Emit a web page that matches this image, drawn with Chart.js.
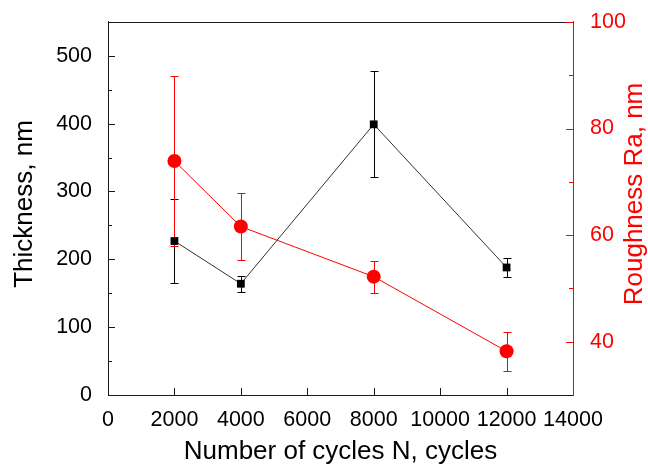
<!DOCTYPE html>
<html>
<head>
<meta charset="utf-8">
<script src="https://cdn.jsdelivr.net/npm/chart.js@4.4.1/dist/chart.umd.min.js"></script>
<style>
  html, body { margin: 0; padding: 0; background: #fff; }
  #wrap { width: 648px; height: 467px; }
</style>
</head>
<body>
<div id="wrap"><canvas id="chart"></canvas></div>
<script>
// values
const cycles = [2000, 4000, 8000, 12000];
const thickness = [227, 164, 399, 188];
const thicknessErr = [62, 12, 78, 14];
const roughness = [73.9, 61.6, 52.2, 38.2];
const roughnessErr = [16, 6.3, 3, 3.7];

const xTicks = [0, 2000, 4000, 6000, 8000, 10000, 12000, 14000];
const thicknessTicks = [0, 100, 200, 300, 400, 500];
const roughnessTicks = [40, 60, 80, 100];

const FONT = '"Liberation Sans", Arial, sans-serif';
const RED = "#ff0000";
const DARK = "#1a1a1a";

function toPoints(xs, ys) {
  return xs.map((x, i) => ({ x: x, y: ys[i] }));
}

function midpoints(arr) {
  let out = [];
  for (let i = 0; i < arr.length - 1; i++) out.push((arr[i] + arr[i + 1]) / 2);
  return out;
}

const errorBars = {
  id: "errorBars",
  beforeDatasetsDraw(chart) {
    const ctx = chart.ctx;
    chart.data.datasets.forEach((ds, i) => {
      const meta = chart.getDatasetMeta(i);
      const ys = chart.scales[ds.yAxisID];
      ctx.save();
      ctx.strokeStyle = ds.errColor;
      ctx.lineWidth = 1;
      meta.data.forEach((pt, j) => {
        const v = ds.data[j].y;
        const e = ds.err[j];
        const top = Math.round(ys.getPixelForValue(v + e)) + 0.5;
        const bot = Math.round(ys.getPixelForValue(v - e)) + 0.5;
        const x = Math.round(pt.x) + 0.5;
        ctx.beginPath();
        ctx.moveTo(x, top);
        ctx.lineTo(x, bot);
        ctx.moveTo(x - 4, top);
        ctx.lineTo(x + 4, top);
        ctx.moveTo(x - 4, bot);
        ctx.lineTo(x + 4, bot);
        ctx.stroke();
      });
      ctx.restore();
    });
  },
};

const frame = {
  id: "frame",
  afterDraw(chart) {
    const ctx = chart.ctx;
    const a = chart.chartArea;
    const sx = chart.scales.x;
    const yl = chart.scales.yL;
    const yr = chart.scales.yR;
    ctx.save();
    ctx.lineWidth = 1;

    // top border
    ctx.strokeStyle = DARK;
    ctx.beginPath();
    ctx.moveTo(a.left, Math.round(a.top) + 0.5);
    ctx.lineTo(a.right, Math.round(a.top) + 0.5);
    ctx.stroke();

    // inward ticks, left + bottom
    ctx.beginPath();
    thicknessTicks.forEach((v) => {
      const y = Math.round(yl.getPixelForValue(v)) + 0.5;
      ctx.moveTo(a.left, y);
      ctx.lineTo(a.left + 7, y);
    });
    midpoints(thicknessTicks.concat([600])).forEach((v) => {
      const y = Math.round(yl.getPixelForValue(v)) + 0.5;
      ctx.moveTo(a.left, y);
      ctx.lineTo(a.left + 4, y);
    });
    xTicks.slice(1, -1).forEach((v) => {
      const x = Math.round(sx.getPixelForValue(v)) + 0.5;
      ctx.moveTo(x, a.bottom);
      ctx.lineTo(x, a.bottom - 7);
    });
    ctx.stroke();

    // inward ticks, right
    ctx.strokeStyle = RED;
    ctx.beginPath();
    roughnessTicks.forEach((v) => {
      const y = Math.round(yr.getPixelForValue(v)) + 0.5;
      ctx.moveTo(a.right, y);
      ctx.lineTo(a.right - 7, y);
    });
    midpoints([20].concat(roughnessTicks)).forEach((v) => {
      if (v < 35) return;
      const y = Math.round(yr.getPixelForValue(v)) + 0.5;
      ctx.moveTo(a.right, y);
      ctx.lineTo(a.right - 4, y);
    });
    ctx.stroke();

    // axis titles
    ctx.font = "26px " + FONT;
    ctx.textAlign = "center";
    ctx.textBaseline = "middle";
    ctx.fillStyle = "#000";
    ctx.fillText("Number of cycles N, cycles", (a.left + a.right) / 2, 452);

    ctx.save();
    ctx.translate(25, 204);
    ctx.rotate(-Math.PI / 2);
    ctx.fillText("Thickness, nm", 0, 0);
    ctx.restore();

    ctx.save();
    ctx.fillStyle = RED;
    ctx.translate(635, 194);
    ctx.rotate(-Math.PI / 2);
    ctx.fillText("Roughness Ra, nm", 0, 0);
    ctx.restore();

    ctx.restore();
  },
};

const data = {
  datasets: [
    {
      label: "Thickness",
      data: toPoints(cycles, thickness),
      err: thicknessErr,
      errColor: "#000",
      yAxisID: "yL",
      borderColor: "#333",
      borderWidth: 1,
      backgroundColor: "#000",
      pointStyle: "rect",
      pointRadius: 5.5,
      pointBorderWidth: 0,
      showLine: true,
    },
    {
      label: "Roughness",
      data: toPoints(cycles, roughness),
      err: roughnessErr,
      errColor: RED,
      yAxisID: "yR",
      borderColor: RED,
      borderWidth: 1,
      backgroundColor: RED,
      pointStyle: "circle",
      pointRadius: 7,
      pointBorderWidth: 0,
      showLine: true,
    },
  ],
};

const config = {
  type: "scatter",
  data: data,
  options: {
    responsive: true,
    maintainAspectRatio: false,
    animation: false,
    layout: { padding: { top: 17, left: 0, right: 0, bottom: 0 } },
    plugins: { legend: { display: false }, tooltip: { enabled: false } },
    scales: {
      x: {
        type: "linear",
        position: "bottom",
        min: 0,
        max: 14000,
        afterFit: (s) => { s.height = 72; },
        afterBuildTicks: (s) => { s.ticks = xTicks.map((v) => ({ value: v })); },
        grid: { display: false },
        border: { display: true, color: DARK, width: 1 },
        ticks: {
          color: "#000",
          padding: 4,
          maxRotation: 0,
          autoSkip: false,
          font: { family: FONT, size: 21.5 },
          callback: (v) => String(v),
        },
      },
      yL: {
        type: "linear",
        position: "left",
        min: 0,
        max: 550,
        afterFit: (s) => { s.width = 108; },
        afterBuildTicks: (s) => { s.ticks = thicknessTicks.map((v) => ({ value: v })); },
        grid: { display: false },
        border: { display: true, color: DARK, width: 1 },
        ticks: {
          color: "#000",
          padding: 8,
          font: { family: FONT, size: 21.5 },
          callback: (v) => String(v),
        },
      },
      yR: {
        type: "linear",
        position: "right",
        min: 30,
        max: 100,
        afterFit: (s) => { s.width = 75; },
        afterBuildTicks: (s) => { s.ticks = roughnessTicks.map((v) => ({ value: v })); },
        grid: { display: false },
        border: { display: true, color: RED, width: 1 },
        ticks: {
          color: RED,
          padding: 9,
          font: { family: FONT, size: 21.5 },
          callback: (v) => String(v),
        },
      },
    },
  },
  plugins: [errorBars, frame],
};

var myChart = new Chart(document.getElementById("chart"), config);
</script>
</body>
</html>
